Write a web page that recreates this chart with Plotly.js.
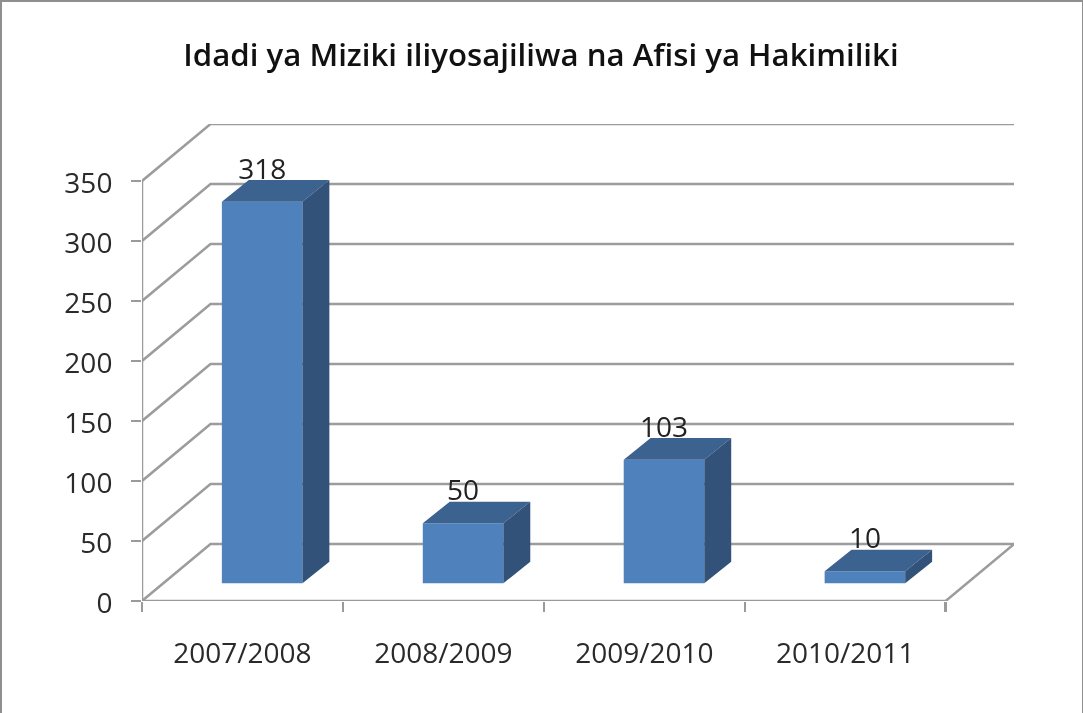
<!DOCTYPE html>
<html>
<head>
<meta charset="utf-8">
<script src="https://cdn.plot.ly/plotly-3.0.1.min.js"></script>
<style>
html,body{margin:0;padding:0;background:#fff;overflow:hidden}
#chart{width:1083px;height:713px;filter:blur(0.5px)}
#frame{position:absolute;left:0;top:0;width:1083px;height:713px;box-sizing:border-box;border-left:2.5px solid #8f8f8f;border-top:2.5px solid #8f8f8f;border-right:1.5px solid #8f8f8f;pointer-events:none}
</style>
</head>
<body>
<div id="chart"></div>
<div id="frame"></div>
<script>
const chartTitle = "Idadi ya Miziki iliyosajiliwa na Afisi ya Hakimiliki";
const categories = ["2007/2008", "2008/2009", "2009/2010", "2010/2011"];
const values = [318, 50, 103, 10];
const yTicks = [0, 50, 100, 150, 200, 250, 300, 350];

// Projection of the depth direction, in axis units
const xStart = -0.5, xEnd = 3.5, xMax = 3.84;
const yMax = 397.5;
const wallDx = 0.341, wallDy = 47.5;
const barShiftX = 0.098, barFloor = 14.75, barWidth = 0.401;
const barDx = 0.134, barDy = 18;
const labelLift = 25;

const gridX = [], gridY = [];
yTicks.forEach(v => {
  gridX.push(xStart, xStart + wallDx, xMax, null);
  gridY.push(v, v + wallDy, v + wallDy, null);
});
const rightX = [xEnd, xEnd + wallDx], rightY = [0, wallDy];

const topX = [], topY = [], sideX = [], sideY = [];
values.forEach((v, i) => {
  const l = i + barShiftX - barWidth / 2, r = i + barShiftX + barWidth / 2, t = v + barFloor;
  topX.push(l, r, r + barDx, l + barDx, l, null);
  topY.push(t, t, t + barDy, t + barDy, t, null);
  sideX.push(r, r + barDx, r + barDx, r, r, null);
  sideY.push(barFloor, barFloor + barDy, t + barDy, t, barFloor, null);
});

const gridLine = {color: "#9c9c9c", width: 2.5};
const traces = [
  {type: "scatter", mode: "lines", x: gridX, y: gridY, line: gridLine, cliponaxis: false, hoverinfo: "skip", xaxis: "x", yaxis: "y"},
  {type: "scatter", mode: "lines", x: rightX, y: rightY, line: gridLine, cliponaxis: false, hoverinfo: "skip", xaxis: "x", yaxis: "y"},
  {type: "scatter", mode: "lines", x: [xStart, xStart], y: [0, 350], line: {color: "#9a9a9a", width: 2.5}, cliponaxis: false, hoverinfo: "skip", xaxis: "x", yaxis: "y"},
  {type: "scatter", mode: "lines", x: [xStart, xEnd], y: [0, 0], line: {color: "#9a9a9a", width: 2.5}, cliponaxis: false, hoverinfo: "skip", xaxis: "x", yaxis: "y"},
  {type: "bar", x: values.map((v, i) => i + barShiftX), y: values, base: values.map(() => barFloor), width: barWidth,
   marker: {color: "#4f81bd", line: {width: 0}}, xaxis: "x2", yaxis: "y2"},
  {type: "scatter", mode: "lines", x: topX, y: topY, fill: "toself", fillcolor: "#3c628f", line: {width: 0, color: "#3c628f"}, hoverinfo: "skip", xaxis: "x2", yaxis: "y2"},
  {type: "scatter", mode: "lines", x: sideX, y: sideY, fill: "toself", fillcolor: "#325279", line: {width: 0, color: "#325279"}, hoverinfo: "skip", xaxis: "x2", yaxis: "y2"},
  {type: "scatter", mode: "text", x: values.map((v, i) => i + barShiftX), y: values.map(v => v + barFloor + labelLift),
   text: values.map(String), textposition: "middle center", textfont: {family: "Open Sans", size: 28, color: "#222222"},
   cliponaxis: false, hoverinfo: "skip", xaxis: "x2", yaxis: "y2"}
];

const tickFont = {family: "Open Sans", size: 28, color: "#2a2a2a"};
const layout = {
  width: 1083, height: 713,
  margin: {l: 142, r: 69, t: 124, b: 112, pad: 0},
  paper_bgcolor: "#ffffff", plot_bgcolor: "#ffffff",
  showlegend: false,
  title: {text: chartTitle, x: 0.4995, xanchor: "center", y: 0.923, yanchor: "middle",
          font: {family: "Open Sans", size: 31.2, weight: 600, color: "#111111"}},
  xaxis: {type: "linear", range: [xStart, xMax], tickmode: "array", tickvals: categories.map((c, i) => i), ticktext: categories,
          ticks: "", showgrid: false, zeroline: false, showline: false, tickfont: tickFont, ticklabelstandoff: 33,
          minor: {tick0: xStart, dtick: 1, ticks: "outside", ticklen: 10, tickwidth: 2.5, tickcolor: "#9a9a9a", showgrid: false}},
  yaxis: {range: [0, yMax], tickmode: "array", tickvals: yTicks, ticks: "outside", ticklen: 10, tickwidth: 2.5, tickcolor: "#9a9a9a",
          showgrid: false, zeroline: false, showline: false, tickfont: tickFont, ticklabelstandoff: 13, ticklabelshift: 2},
  xaxis2: {overlaying: "x", matches: "x", range: [xStart, xMax], visible: false},
  yaxis2: {overlaying: "y", matches: "y", range: [0, yMax], visible: false},
  barmode: "overlay"
};
Plotly.newPlot("chart", traces, layout, {displayModeBar: false, staticPlot: true});
</script>
</body>
</html>
